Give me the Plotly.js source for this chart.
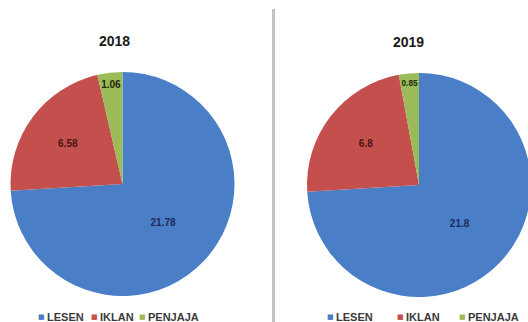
<!DOCTYPE html>
<html>
<head>
<meta charset="utf-8">
<script src="https://cdn.plot.ly/plotly-3.0.1.min.js"></script>
<style>
html,body{margin:0;padding:0;overflow:hidden;background:#fff;width:528px;height:322px;}
#chart{width:540px;height:322px;}
</style>
</head>
<body>
<div id="chart"></div>
<script>
// Data
const categories = ["LESEN", "IKLAN", "PENJAJA"];
const years = ["2018", "2019"];
const values2018 = [21.78, 6.58, 1.06];
const values2019 = [21.8, 6.8, 0.85];
const colors = ["#4A7EC6", "#C4504D", "#9BBB59"];
const labelColors = ["#1c2b5c", "#4a1616", "#1f2a0c"];

const W = 540, H = 322;
const R = 112;
const FONT = "Liberation Sans, Arial, sans-serif";
function dom(cx, cy, r) {
  return {
    x: [(cx - r) / W, (cx + r) / W],
    y: [(H - (cy + r)) / H, (H - (cy - r)) / H]
  };
}

function pieTrace(vals, domain) {
  return {
    type: "pie",
    labels: categories,
    values: vals,
    domain: domain,
    sort: false,
    direction: "clockwise",
    rotation: 0,
    marker: {colors: colors, line: {width: 0}},
    textinfo: "value",
    textposition: "inside",
    insidetextorientation: "horizontal",
    textfont: {family: FONT, size: 10, color: labelColors},
    texttemplate: "<b>%{value}</b>",
    hoverinfo: "label+value",
    showlegend: false
  };
}

const data = [
  pieTrace(values2018, dom(122.5, 184, R)),
  pieTrace(values2019, dom(419, 185, R))
];

// Compact legend (one per pie), built from categories/colors
const legendY = 1 - 317 / H;
const legendLayouts = [
  {squares: [41, 94, 142]},
  {squares: [330, 400, 462]}
];
const annotations = [];
legendLayouts.forEach(function(lg) {
  categories.forEach(function(cat, i) {
    annotations.push({
      text: "■", x: lg.squares[i] / W, y: legendY, xref: "paper", yref: "paper",
      xanchor: "center", yanchor: "middle", showarrow: false,
      font: {family: "DejaVu Sans", size: 7, color: colors[i]}
    });
    annotations.push({
      text: "<b>" + cat + "</b>", x: (lg.squares[i] + 3.5) / W, y: legendY, xref: "paper", yref: "paper",
      xanchor: "left", yanchor: "middle", showarrow: false,
      font: {family: FONT, size: 11, color: "#3a3a3a"}
    });
  });
});
// Titles
const titleX = [114, 408];
const titleY = [41.5, 42];
years.forEach(function(yr, i) {
  annotations.push({
    text: "<b>" + yr + "</b>", x: titleX[i] / W, y: 1 - titleY[i] / H, xref: "paper", yref: "paper",
    xanchor: "center", yanchor: "middle", showarrow: false,
    font: {family: FONT, size: 14, color: "#1a1a1a"}
  });
});

const layout = {
  width: W,
  height: H,
  margin: {l: 0, r: 0, t: 0, b: 0},
  paper_bgcolor: "#ffffff",
  font: {family: FONT},
  showlegend: false,
  annotations: annotations,
  shapes: [
    {type: "line", xref: "paper", yref: "paper", x0: 273.5 / W, x1: 273.5 / W, y0: 0, y1: 1 - 9 / H,
     line: {color: "#c4c4c4", width: 3}}
  ]
};

Plotly.newPlot("chart", data, layout, {staticPlot: true, displayModeBar: false});
</script>
</body>
</html>
